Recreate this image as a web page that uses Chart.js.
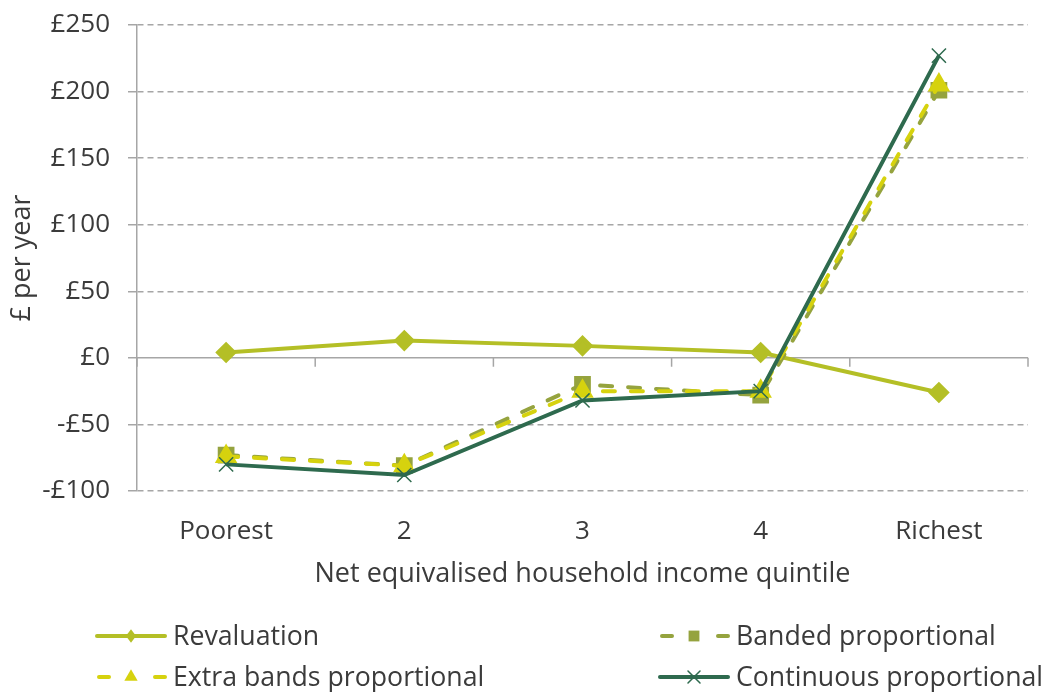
<!DOCTYPE html>
<html>
<head>
<meta charset="utf-8">
<script src="https://cdn.jsdelivr.net/npm/chart.js@4/dist/chart.umd.min.js"></script>
<style>
  body { margin: 0; background: #fff; }
  canvas { display: block; }
</style>
</head>
<body>
<canvas id="chart" width="1045" height="692"></canvas>
<script>
// données
const categories = ['Poorest', '2', '3', '4', 'Richest'];
const revaluation = [4, 13, 9, 4, -26];
const banded = [-73, -81, -20, -28, 201];
const extraBands = [-74, -81, -25, -25, 205];
const continuous = [-80, -88, -32, -25, 227];
const seriesNames = ['Revaluation', 'Banded proportional', 'Extra bands proportional', 'Continuous proportional'];

const textColor = '#3b3b3b';
const gridColor = '#a6a6a6';
const tickFont = { family: 'Open Sans', size: 26 };
const titleFont = { family: 'Open Sans', size: 27 };

// ligne du zéro + petites graduations de l'axe des catégories
const zeroLine = {
  id: 'zeroLine',
  beforeDatasetsDraw(chart) {
    const { ctx, chartArea, scales } = chart;
    const y0 = scales.y.getPixelForValue(0);
    ctx.save();
    ctx.strokeStyle = gridColor;
    ctx.lineWidth = 1.5;
    ctx.beginPath();
    ctx.moveTo(chartArea.left, y0);
    ctx.lineTo(chartArea.right, y0);
    for (let i = 0; i <= categories.length; i++) {
      const x = chartArea.left + (chartArea.right - chartArea.left) * i / categories.length;
      ctx.moveTo(x, y0);
      ctx.lineTo(x, y0 + 9);
    }
    ctx.stroke();
    ctx.restore();
  }
};

function drawMarker(ctx, style, x, y, r, color) {
  ctx.save();
  ctx.fillStyle = color;
  ctx.strokeStyle = color;
  ctx.setLineDash([]);
  ctx.beginPath();
  if (style === 'rectRot') {
    ctx.moveTo(x, y - r); ctx.lineTo(x + r * 0.75, y); ctx.lineTo(x, y + r); ctx.lineTo(x - r * 0.75, y);
    ctx.closePath(); ctx.fill();
  } else if (style === 'rect') {
    const s = r * Math.SQRT1_2;
    ctx.fillRect(x - s, y - s, 2 * s, 2 * s);
  } else if (style === 'triangle') {
    ctx.moveTo(x, y - r); ctx.lineTo(x + r * 0.87, y + r / 2); ctx.lineTo(x - r * 0.87, y + r / 2);
    ctx.closePath(); ctx.fill();
  } else {
    const s = r * Math.SQRT1_2;
    ctx.lineWidth = 1.5;
    ctx.moveTo(x - s, y - s); ctx.lineTo(x + s, y + s);
    ctx.moveTo(x + s, y - s); ctx.lineTo(x - s, y + s);
    ctx.stroke();
  }
  ctx.restore();
}

// légende sur deux colonnes
const legend2col = {
  id: 'legend2col',
  afterDraw(chart) {
    const { ctx } = chart;
    const spots = [[97, 636], [660, 636], [97, 677], [660, 677]];
    chart.data.datasets.forEach((ds, i) => {
      const [x, y] = spots[i];
      ctx.save();
      ctx.strokeStyle = ds.borderColor;
      ctx.lineWidth = ds.borderWidth;
      ctx.lineCap = 'round';
      ctx.beginPath();
      if (ds.borderDash) {
        ctx.moveTo(x + 2, y); ctx.lineTo(x + 12, y);
        ctx.moveTo(x + 58, y); ctx.lineTo(x + 68, y);
      } else {
        ctx.moveTo(x, y); ctx.lineTo(x + 68, y);
      }
      ctx.stroke();
      drawMarker(ctx, ds.pointStyle, x + 34, y, ds.pointRadius * 0.85, ds.pointBackgroundColor);
      ctx.fillStyle = textColor;
      ctx.font = '26.7px "Open Sans"';
      ctx.textBaseline = 'middle';
      ctx.fillText(ds.label, x + 76, y + 1);
      ctx.restore();
    });
  }
};

const config = {
  type: 'line',
  data: {
    labels: categories,
    datasets: [
      {
        label: seriesNames[0], data: revaluation, order: 4,
        borderColor: '#b4bf26', borderWidth: 4,
        pointStyle: 'rectRot', pointRadius: 8, pointBackgroundColor: '#b4bf26', pointBorderColor: '#b4bf26'
      },
      {
        label: seriesNames[1], data: banded, order: 3,
        borderColor: '#95a33e', borderWidth: 4, borderDash: [12, 16], borderCapStyle: 'round',
        pointStyle: 'rect', pointRadius: 9, pointBackgroundColor: '#95a33e', pointBorderColor: '#95a33e'
      },
      {
        label: seriesNames[2], data: extraBands, order: 2,
        borderColor: '#d6d20e', borderWidth: 4, borderDash: [12, 16], borderCapStyle: 'round',
        pointStyle: 'triangle', pointRadius: 9, pointBackgroundColor: '#d6d20e', pointBorderColor: '#d6d20e'
      },
      {
        label: seriesNames[3], data: continuous, order: 1,
        borderColor: '#2e6a4e', borderWidth: 4,
        pointStyle: 'crossRot', pointRadius: 10, pointBorderWidth: 1.5, pointBackgroundColor: '#2e6a4e', pointBorderColor: '#2e6a4e'
      }
    ]
  },
  options: {
    responsive: false,
    animation: false,
    layout: { padding: { left: 0, right: 17, top: 25, bottom: 92 } },
    plugins: {
      legend: { display: false },
      tooltip: { enabled: false }
    },
    scales: {
      x: {
        offset: true,
        grid: { display: false, drawTicks: false },
        border: { display: false },
        ticks: { color: textColor, font: tickFont, padding: 25 },
        title: {
          display: true, text: 'Net equivalised household income quintile',
          color: textColor, font: titleFont, padding: { top: 0, bottom: 9 }
        },
        afterFit(scale) { scale.height = 109; scale.paddingLeft = 0; scale.paddingRight = 0; }
      },
      y: {
        min: -100, max: 250,
        grid: {
          color: ctx => ctx.tick && ctx.tick.value === 0 ? 'rgba(0,0,0,0)' : gridColor,
          lineWidth: 1.5, tickLength: 9, tickColor: gridColor
        },
        border: { display: true, color: gridColor, width: 1.5, dash: [6, 4] },
        ticks: {
          stepSize: 50, color: textColor, font: tickFont, padding: 18,
          callback: v => (v < 0 ? '-£' : '£') + Math.abs(v)
        },
        title: {
          display: true, text: '£ per year', color: textColor, font: titleFont,
          padding: { top: 6, bottom: 0 }
        },
        afterFit(scale) { scale.width = 137; scale.paddingTop = 0; scale.paddingBottom = 0; }
      }
    }
  },
  plugins: [zeroLine, legend2col]
};

new Chart(document.getElementById('chart').getContext('2d'), config);
</script>
</body>
</html>
